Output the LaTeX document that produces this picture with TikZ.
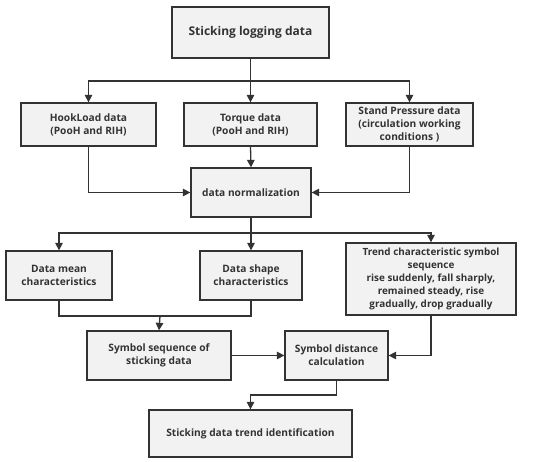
\documentclass[tikz,border=0pt]{standalone}
\usepackage{fontspec}
\setmainfont{Open Sans}
\usetikzlibrary{arrows.meta}
\definecolor{boxfill}{HTML}{F2F2F2}
\definecolor{edge}{HTML}{333333}
\begin{document}
\begin{tikzpicture}[x=1pt,y=-1pt,
  box/.style={draw=edge,fill=boxfill,line width=1.3pt,align=center,inner sep=0pt,
    font=\fontsize{10.2}{13}\selectfont\bfseries,text=edge},
  conn/.style={draw=edge,line width=1.3pt,-{Triangle[length=7.5pt,width=7.5pt]}},
  line/.style={draw=edge,line width=1.3pt}]
\useasboundingbox (0,0) rectangle (550,462);
\node[box,minimum width=157pt,minimum height=51pt,font=\fontsize{12}{14}\selectfont\bfseries] (top) at (250.5,32.5) {Sticking logging data};
\node[box,minimum width=135pt,minimum height=43pt] (hook) at (88.5,124.5) {HookLoad data\\(PooH and RIH)};
\node[box,minimum width=133pt,minimum height=43pt] (torque) at (250.5,124.5) {Torque data\\(PooH and RIH)};
\node[box,minimum width=127pt,minimum height=43pt] (stand) at (409.5,124.5) {Stand Pressure data\\(circulation working\\conditions )};
\node[box,minimum width=120pt,minimum height=49pt] (norm) at (251,192.5) {data normalization};
\node[box,minimum width=106pt,minimum height=49pt] (mean) at (59,275.5) {Data mean\\characteristics};
\node[box,minimum width=102pt,minimum height=49pt] (shape) at (251,275.5) {Data shape\\characteristics};
\node[box,minimum width=170pt,minimum height=72pt,font=\fontsize{9.9}{12.8}\selectfont\bfseries] (trend) at (431,279) {Trend characteristic symbol\\sequence\\rise suddenly, fall sharply,\\remained steady, rise\\gradually, drop gradually};
\node[box,minimum width=144pt,minimum height=49pt] (seq) at (159,355.5) {Symbol sequence of\\sticking data};
\node[box,minimum width=103pt,minimum height=49pt] (dist) at (336.5,355.5) {Symbol distance\\calculation};
\node[box,minimum width=203pt,minimum height=47pt] (final) at (250.5,433.5) {Sticking data trend identification};
\coordinate (b1) at (250.5,81);
\coordinate (b2) at (251,233);
\coordinate (b3) at (160,316);
\coordinate (b4) at (336.5,395);
\draw[line] (top.south) -- (b1);
\draw[conn] (b1) -| (hook.north);
\draw[conn] (b1) -- (torque.north);
\draw[conn] (b1) -| (stand.north);
\draw[conn] (hook.south) |- (norm.west);
\draw[conn] (torque.south) -- (norm.north);
\draw[conn] (stand.south) |- (norm.east);
\draw[line] (norm.south) -- (b2);
\draw[conn] (b2) -| (mean.north);
\draw[conn] (b2) -- (shape.north);
\draw[conn] (b2) -| (trend.north);
\draw[line] (mean.south) |- (b3) -| (shape.south);
\draw[conn] (b3) -- (seq.north);
\draw[conn] (seq.east) -- (dist.west);
\draw[conn] (trend.south) |- (dist.east);
\draw[line] (dist.south) -- (b4);
\draw[conn] (b4) -| (final.north);
\end{tikzpicture}
\end{document}
